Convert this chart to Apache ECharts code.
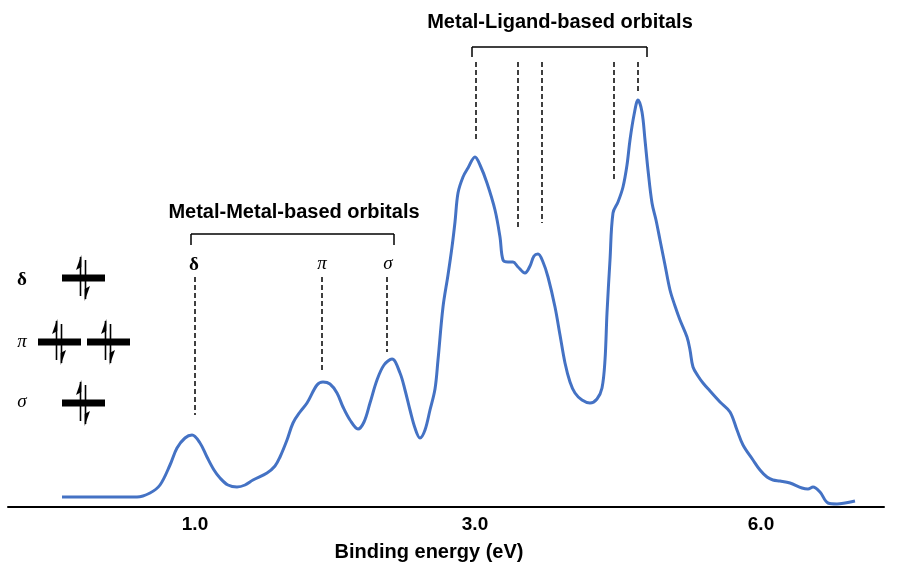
<!DOCTYPE html>
<html>
<head>
<meta charset="utf-8">
<script src="https://cdn.jsdelivr.net/npm/echarts@6/dist/echarts.min.js"></script>
<style>html,body{margin:0;padding:0;background:#fff}#c{width:897px;height:562px}</style>
</head>
<body>
<div id="c"></div>
<script>
// Spectrum (x: channel position, y: intensity, arbitrary units)
const channel = [62,100,137,150,160,170,177,185,192,200,207,214,220,228,237,245,253,267,275,280,287,293,300,307,317,323,330,337,343,350,358,364,370,377,384,392,400,405,410,415,420,425,430,435,438,443,448,452,455,458,463,468,475,480,487,495,500,503,508,513,518,525,530,534,538,543,548,555,560,565,570,575,582,590,597,602,605,607,610,613,618,623,627,630,634,638,642,645,648,652,656,660,665,670,675,680,687,690,693,698,703,710,720,730,737,743,753,760,767,773,780,790,802,808,813,820,828,837,845,855];
const intensity = [10,10,10,14,22,42,59,69,72,64,50,37,29,22,20,22,27,34,41,50,67,84,95,104,122,125,123,114,100,87,78,85,104,127,142,148,134,117,97,79,69,77,97,118,147,200,232,260,285,314,330,339,350,342,324,297,270,247,245,245,240,234,241,251,253,245,230,200,172,144,125,114,107,104,108,119,147,194,247,294,305,320,342,367,392,407,395,367,337,304,287,267,242,217,201,187,170,157,140,131,124,116,105,95,77,62,47,37,30,27,26,24,19,18,20,15,4,3,4,6];
const tickPos = [195, 475, 761];
const tickLabels = ['1.0', '3.0', '6.0'];

// annotation guides (channel, top intensity, bottom intensity)
const mmDashX = [195, 322, 387];
const mmDashTop = [230, 230, 230];
const mmDashBottom = [92, 134, 155];
const mlDashX = [476, 518, 542, 614, 638];
const mlDashTop = [445, 445, 445, 445, 445];
const mlDashBottom = [365, 279, 284, 328, 414];

const chart = echarts.init(document.getElementById('c'));
const dashStyle = {color: '#000', width: 1.5, type: [5, 3]};
const solidStyle = {color: '#000', width: 1.5, type: 'solid'};
const marks = [];
mmDashX.forEach((x, i) => marks.push([{coord: [x, mmDashTop[i]], lineStyle: dashStyle}, {coord: [x, mmDashBottom[i]]}]));
mlDashX.forEach((x, i) => marks.push([{coord: [x, mlDashTop[i]], lineStyle: dashStyle}, {coord: [x, mlDashBottom[i]]}]));
function bracket(x1, x2, yTop, yBot) {
  marks.push([{coord: [x1, yTop], lineStyle: solidStyle}, {coord: [x2, yTop]}]);
  marks.push([{coord: [x1, yTop], lineStyle: solidStyle}, {coord: [x1, yBot]}]);
  marks.push([{coord: [x2, yTop], lineStyle: solidStyle}, {coord: [x2, yBot]}]);
}
bracket(191, 394, 273, 262);
bracket(472, 647, 460, 450);

// MO diagram graphics
const g = [];
function txt(x, y, s, font) {
  g.push({type: 'text', x: x, y: y, style: {text: s, font: font, fill: '#000', align: 'center', verticalAlign: 'middle'}});
}
function bar(x1, x2, cy) {
  g.push({type: 'rect', shape: {x: x1, y: cy - 3.5, width: x2 - x1, height: 7}, style: {fill: '#000'}});
}
function arrows(cx, cy) {
  const xu = cx - 2.5, xd = cx + 2.5;
  g.push({type: 'line', shape: {x1: xu, y1: cy - 21, x2: xu, y2: cy + 18}, style: {stroke: '#000', lineWidth: 1.6}});
  g.push({type: 'polygon', shape: {points: [[xu + 0.8, cy - 23], [xu - 4.5, cy - 8], [xu + 0.8, cy - 11]]}, style: {fill: '#000'}});
  g.push({type: 'line', shape: {x1: xd, y1: cy - 18, x2: xd, y2: cy + 21}, style: {stroke: '#000', lineWidth: 1.6}});
  g.push({type: 'polygon', shape: {points: [[xd - 0.8, cy + 23], [xd + 4.5, cy + 8], [xd - 0.8, cy + 11]]}, style: {fill: '#000'}});
}
const serifB = 'bold 19px "Liberation Serif", "DejaVu Serif", serif';
const serifI = 'italic 19px "Liberation Serif", "DejaVu Serif", serif';
const sansB = 'bold 20px "Liberation Sans", Arial, sans-serif';
txt(22, 280, 'δ', serifB);
txt(22, 342, 'π', serifI);
txt(22, 402, 'σ', serifI);
bar(62, 105, 278); arrows(83, 278);
bar(38, 81, 342); arrows(59, 342);
bar(87, 130, 342); arrows(108, 342);
bar(62, 105, 403); arrows(83, 403);
txt(294, 212, 'Metal-Metal-based orbitals', sansB);
txt(560, 22, 'Metal-Ligand-based orbitals', sansB);
txt(194, 265, 'δ', serifB);
txt(322, 264, 'π', serifI);
txt(388, 264, 'σ', serifI);

const axisFont = '"Liberation Sans", Arial, sans-serif';
chart.setOption({
  animation: false,
  grid: {left: 8, right: 13, top: 0, bottom: 55, containLabel: false, outerBoundsMode: 'none'},
  xAxis: {
    type: 'value', min: 8, max: 884,
    axisLine: {show: true, onZero: false, lineStyle: {color: '#000', width: 2}},
    axisTick: {show: false},
    splitLine: {show: false},
    axisLabel: {
      customValues: tickPos,
      formatter: v => tickLabels[tickPos.indexOf(v)] ?? '',
      color: '#000', fontSize: 19, fontWeight: 'bold', fontFamily: axisFont, margin: 8
    },
    name: 'Binding energy (eV)', nameLocation: 'middle', nameGap: 35,
    nameTextStyle: {color: '#000', fontSize: 20, fontWeight: 'bold', fontFamily: axisFont, padding: [0, 34, 0, 0]}
  },
  yAxis: {type: 'value', min: 0, max: 507, show: false, splitLine: {show: false}},
  series: [{
    type: 'line',
    data: channel.map((x, i) => [x, intensity[i]]),
    symbol: 'none', smooth: 0.35,
    lineStyle: {color: '#4472C4', width: 3},
    markLine: {silent: true, symbol: ['none', 'none'], label: {show: false}, animation: false, data: marks}
  }],
  graphic: g
});
</script>
</body>
</html>
